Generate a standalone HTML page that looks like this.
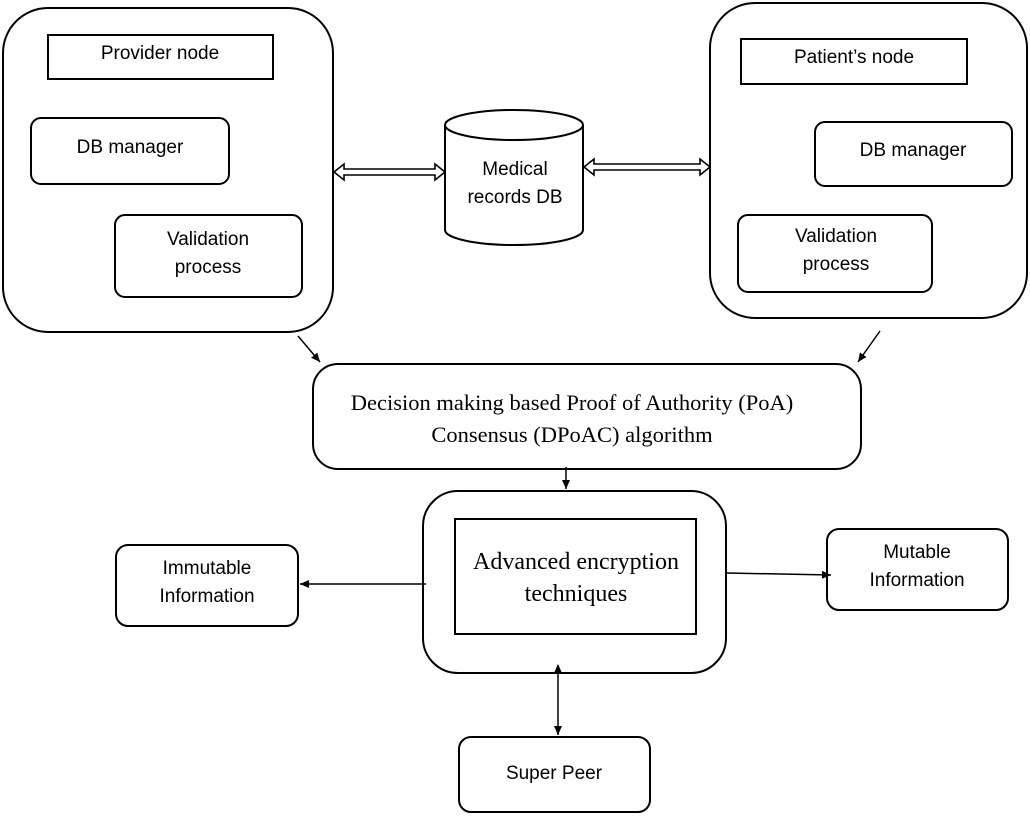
<!DOCTYPE html>
<html><head><style>body{margin:0;background:#fff}svg{display:block}</style></head><body>
<svg width="1030" height="816" viewBox="0 0 1030 816" xmlns="http://www.w3.org/2000/svg">
<defs>
<marker id="a" markerWidth="10" markerHeight="10" refX="9" refY="5" orient="auto" markerUnits="userSpaceOnUse"><path d="M0,1 L9,5 L0,9 z" fill="#000"/></marker>
<marker id="b" markerWidth="10" markerHeight="10" refX="1" refY="5" orient="auto" markerUnits="userSpaceOnUse"><path d="M9,1 L0,5 L9,9 z" fill="#000"/></marker>
</defs>
<g fill="none" stroke="#000" stroke-width="2">
<rect x="3" y="8" width="330" height="324" rx="45"/>
<rect x="48" y="35" width="225" height="44"/>
<rect x="31" y="118" width="198" height="66" rx="10"/>
<rect x="115" y="215" width="187" height="82" rx="10"/>
<rect x="710" y="3" width="317" height="315" rx="45"/>
<rect x="741" y="39" width="226" height="45"/>
<rect x="815" y="122" width="197" height="64" rx="10"/>
<rect x="738" y="215" width="194" height="77" rx="10"/>
<path d="M445,125 L445,230 A69,15 0 0 0 583,230 L583,125"/>
<ellipse cx="514" cy="125" rx="69" ry="15"/>
<rect x="313" y="364" width="548" height="105" rx="25"/>
<rect x="423" y="491" width="303" height="182" rx="35"/>
<rect x="455" y="519" width="241" height="115"/>
<rect x="116" y="545" width="182" height="81" rx="12"/>
<rect x="827" y="529" width="181" height="81" rx="12"/>
<rect x="459" y="737" width="191" height="75" rx="12"/>
</g>
<g fill="#fff" stroke="#000" stroke-width="1.6">
<path d="M334,172 L344,164 L344,169 L435,169 L435,164 L445,172 L435,180 L435,175 L344,175 L344,180 Z"/>
<path d="M584,167 L594,159 L594,164 L700,164 L700,159 L710,167 L700,175 L700,170 L594,170 L594,175 Z"/>
</g>
<g stroke="#000" stroke-width="1.5" fill="none">
<line x1="298" y1="336" x2="320" y2="362" marker-end="url(#a)"/>
<line x1="880" y1="331" x2="858" y2="362" marker-end="url(#a)"/>
<line x1="566" y1="467" x2="566" y2="489" marker-end="url(#a)"/>
<line x1="426" y1="584" x2="300" y2="584" marker-end="url(#a)"/>
<line x1="727" y1="573" x2="831" y2="575" marker-end="url(#a)"/>
<line x1="558" y1="665" x2="558" y2="735" marker-start="url(#b)" marker-end="url(#a)"/>
</g>
<g font-family="Liberation Sans, sans-serif" font-size="19" text-anchor="middle" fill="#000">
<text x="160" y="59">Provider node</text>
<text x="130" y="153">DB manager</text>
<text x="208" y="245">Validation</text>
<text x="208" y="273">process</text>
<text x="854" y="63">Patient’s node</text>
<text x="913" y="156">DB manager</text>
<text x="836" y="242">Validation</text>
<text x="836" y="270">process</text>
<text x="515" y="175">Medical</text>
<text x="515" y="203">records DB</text>
<text x="207" y="574">Immutable</text>
<text x="207" y="602">Information</text>
<text x="917" y="558">Mutable</text>
<text x="917" y="586">Information</text>
<text x="554" y="779">Super Peer</text>
</g>
<g font-family="Liberation Serif, serif" text-anchor="middle" fill="#000">
<text x="572" y="410" font-size="22.5">Decision making based Proof of Authority (PoA)</text>
<text x="572" y="442" font-size="22.5">Consensus (DPoAC) algorithm</text>
<text x="576" y="569" font-size="24">Advanced encryption</text>
<text x="576" y="601" font-size="24">techniques</text>
</g>
</svg>
</body></html>
